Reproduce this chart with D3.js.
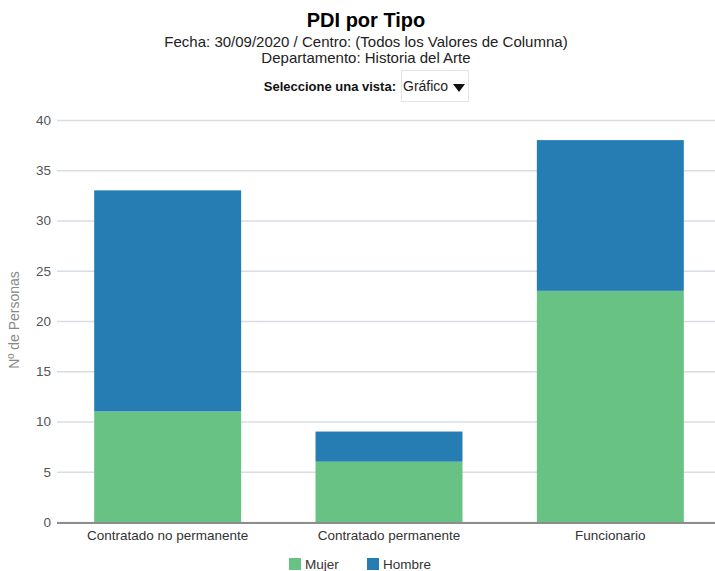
<!DOCTYPE html>
<html><head><meta charset="utf-8">
<script src="https://d3js.org/d3.v7.min.js"></script>
<style>
body{margin:0;background:#fff;font-family:"Liberation Sans",Arial,sans-serif;}
</style></head>
<body><div id="chart"></div>
<script>
const categories = ["Contratado no permanente","Contratado permanente","Funcionario"];
const seriesNames = ["Mujer","Hombre"];
const mujer = [11, 6, 23];
const hombre = [22, 3, 15];
const yTicks = [0,5,10,15,20,25,30,35,40];
const colors = ["#68c283","#267db3"];

const W=715,H=571;
const svg=d3.select("#chart").append("svg").attr("width",W).attr("height",H)
  .style("font-family","'Liberation Sans',Arial,sans-serif");

svg.append("text").attr("x",366).attr("y",27).attr("text-anchor","middle")
  .style("font-size","20px").style("font-weight","bold").attr("fill","#000").text("PDI por Tipo");
svg.append("text").attr("x",366).attr("y",47).attr("text-anchor","middle")
  .style("font-size","15px").attr("fill","#222").text("Fecha: 30/09/2020 / Centro: (Todos los Valores de Columna)");
svg.append("text").attr("x",366).attr("y",63).attr("text-anchor","middle")
  .style("font-size","15px").attr("fill","#222").text("Departamento: Historia del Arte");
svg.append("text").attr("x",396).attr("y",91).attr("text-anchor","end")
  .style("font-size","13px").style("font-weight","bold").attr("fill","#111").text("Seleccione una vista:");
svg.append("rect").attr("x",401.5).attr("y",70.5).attr("width",67).attr("height",31)
  .attr("fill","#fff").attr("stroke","#e4e4e4");
svg.append("text").attr("x",403).attr("y",91).style("font-size","14px").attr("fill","#222").text("Gráfico");
svg.append("path").attr("d","M453,84 L465,84 L459,92 Z").attr("fill","#111");

const x=d3.scaleBand().domain(categories).range([57,721]).paddingInner(0.336).paddingOuter(0.168);
const y=d3.scaleLinear().domain([0,40]).range([522,120]);

// grid
const yAxis=d3.axisLeft(y).tickValues(yTicks).tickSize(-(715-57)).tickPadding(5);
const ga=svg.append("g").attr("transform","translate(57,0)").call(yAxis);
ga.select(".domain").remove();
ga.selectAll(".tick line").attr("stroke","#d8dde4").attr("stroke-width",1.5);
ga.selectAll(".tick text").style("font-size","13.5px").attr("fill","#555").attr("dx","-1");

const stackData=categories.map((c,i)=>({cat:c,Mujer:mujer[i],Hombre:hombre[i]}));
const stack=d3.stack().keys(seriesNames)(stackData);
svg.append("g").selectAll("g").data(stack).join("g").attr("fill",(d,i)=>colors[i])
  .selectAll("rect").data(d=>d).join("rect")
  .attr("x",d=>x(d.data.cat)).attr("width",x.bandwidth())
  .attr("y",d=>y(d[1])).attr("height",d=>y(d[0])-y(d[1]));

// x axis
const xa=svg.append("g").attr("transform","translate(0,522)").call(d3.axisBottom(x).tickSize(0).tickPadding(8));
xa.select(".domain").remove();
xa.selectAll(".tick text").style("font-size","13.5px").attr("fill","#333");
svg.append("line").attr("x1",57).attr("x2",715).attr("y1",523).attr("y2",523).attr("stroke","#8c8c8c").attr("stroke-width",2);

svg.append("text").attr("transform","translate(19,320) rotate(-90)").attr("text-anchor","middle")
  .style("font-size","14px").attr("fill","#888").text("Nº de Personas");

// legend
const legX=[289,367];
seriesNames.forEach((s,i)=>{
  svg.append("rect").attr("x",legX[i]).attr("y",558).attr("width",12).attr("height",12).attr("fill",colors[i]);
  svg.append("text").attr("x",legX[i]+16).attr("y",569).style("font-size","13.5px").attr("fill","#333").text(s);
});
</script></body></html>
